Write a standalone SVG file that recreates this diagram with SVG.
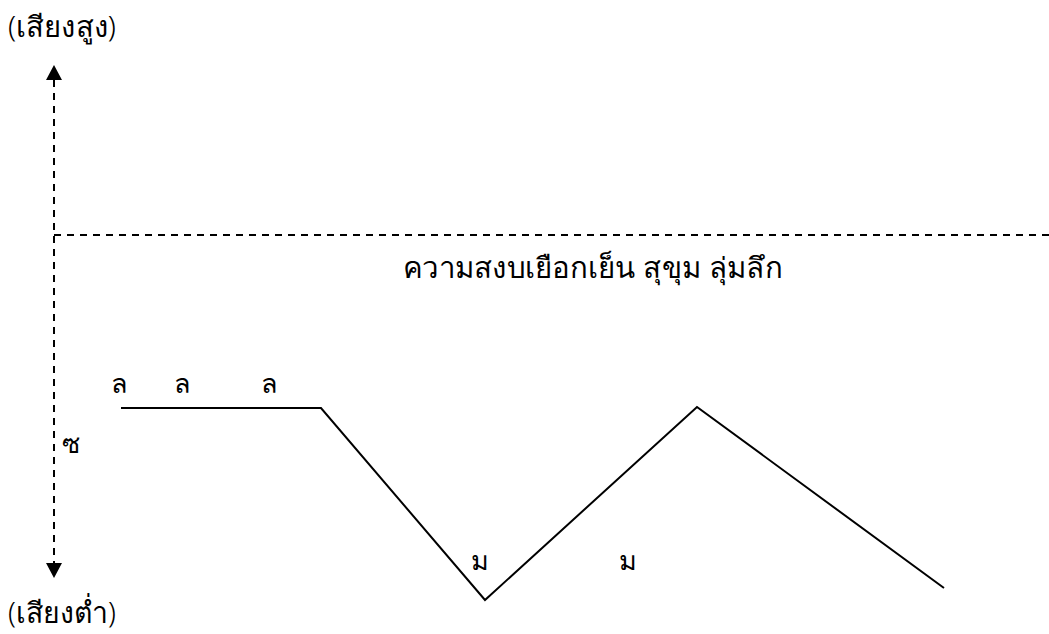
<svg xmlns="http://www.w3.org/2000/svg" width="1049" height="634" viewBox="0 0 1049 634">
<defs>
<style>
.t{font-family:"Noto Sans","DejaVu Sans",sans-serif;fill:#000;font-weight:300}
.d{stroke:#000;stroke-width:2;stroke-dasharray:7 6;fill:none}
.l{stroke:#000;stroke-width:2;fill:none}
</style>
</defs>
<rect width="1049" height="634" fill="#fff"/>
<g id="axis">
<line class="d" x1="54" y1="80" x2="54" y2="565"/>
<polygon points="54,65 46,80 62,80" fill="#000"/>
<polygon points="54,578 46,563 62,563" fill="#000"/>
</g>
<g id="connectors">
<line class="d" x1="54" y1="235" x2="1049" y2="235"/>
<polyline class="l" points="121,408 321,408 485,600 697,407 944,588"/>
</g>
<g id="labels">
<text class="t" x="8" y="37" font-size="29" textLength="108" lengthAdjust="spacingAndGlyphs">(เสียงสูง)</text>
<text class="t" x="8" y="623" font-size="29" textLength="108" lengthAdjust="spacingAndGlyphs">(เสียงต่ำ)</text>
<text class="t" x="403" y="278" font-size="29" textLength="380" lengthAdjust="spacingAndGlyphs">ความสงบเยือกเย็น สุขุม ลุ่มลึก</text>
<text class="t" x="111" y="393" font-size="27">ล</text>
<text class="t" x="174" y="393" font-size="27">ล</text>
<text class="t" x="261" y="393" font-size="27">ล</text>
<text class="t" x="62" y="453" font-size="27">ซ</text>
<text class="t" x="471" y="570" font-size="27">ม</text>
<text class="t" x="619" y="570" font-size="27">ม</text>
</g>
</svg>
